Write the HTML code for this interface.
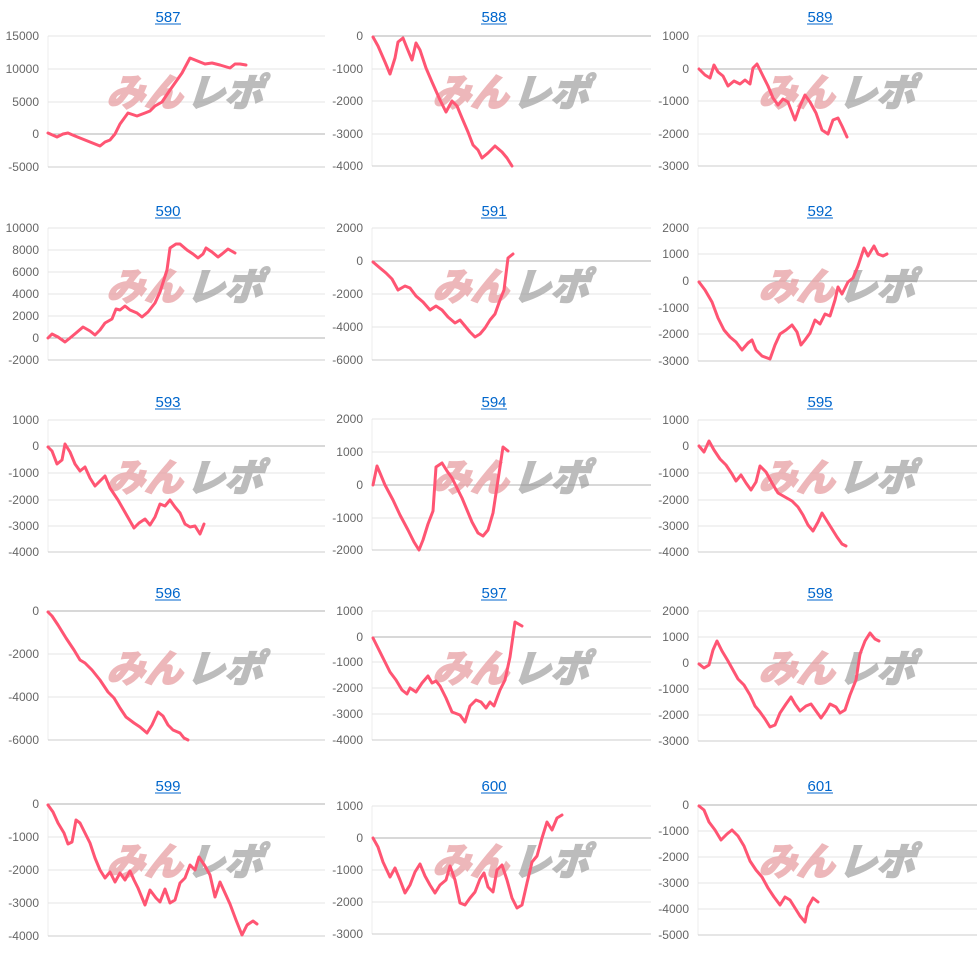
<!DOCTYPE html>
<html><head><meta charset="utf-8"><style>
body{margin:0;background:#fff;width:979px;height:958px;overflow:hidden}
svg{position:absolute;left:0;top:0}
</style></head><body>
<svg id="s" width="979" height="958" xmlns="http://www.w3.org/2000/svg"></svg>
<script>
const C=[
[0,"587",17,[[15000,36],[10000,69],[5000,102],[0,134],[-5000,167]],"48,133 57,137 63,134 68,133 75,136 100,146 105,142 110,140 115,134 120,124 128,113 137,116 145,113 150,111 155,106 162,102 170,90 182,73 190,58 200,62 205,64 212,63 220,65 230,68 235,64 240,64 246,65"],
[1,"588",17,[[0,36],[-1000,69],[-2000,101],[-3000,134],[-4000,166]],"373,37 378,46 385,62 390,74 395,58 398,42 403,38 407,48 412,60 416,43 420,50 426,68 432,82 440,100 446,112 452,101 457,106 462,118 468,132 473,145 478,150 482,158 488,153 495,146 502,152 507,158 512,166"],
[2,"589",17,[[1000,36],[0,69],[-1000,101],[-2000,134],[-3000,166]],"699,69 705,75 710,78 714,65 718,72 723,76 728,86 734,81 740,84 745,80 750,84 753,68 757,64 762,74 768,86 773,98 778,105 783,99 788,102 795,120 800,106 805,95 810,102 816,113 822,130 828,134 833,120 838,118 842,126 847,137"],
[0,"590",211,[[10000,228],[8000,250],[6000,272],[4000,294],[2000,316],[0,338],[-2000,360]],"48,338 52,334 58,337 65,342 70,338 76,333 83,327 90,331 95,335 100,330 105,323 112,319 116,309 120,310 125,306 130,310 137,313 142,317 148,312 155,303 160,292 167,270 170,248 176,244 180,244 187,250 193,254 198,258 203,254 206,248 212,252 218,257 222,254 228,249 235,253"],
[1,"591",211,[[2000,228],[0,261],[-2000,294],[-4000,327],[-6000,360]],"373,262 380,268 386,273 392,279 398,290 405,286 410,288 416,296 423,302 430,310 436,306 442,310 448,317 455,323 460,320 465,326 470,332 475,337 480,334 485,328 490,320 495,314 500,300 504,290 508,258 513,254"],
[2,"592",211,[[2000,228],[1000,254],[0,281],[-1000,308],[-2000,334],[-3000,361]],"699,282 705,290 712,302 718,318 724,330 730,337 736,342 742,350 748,343 752,340 756,350 762,356 770,359 775,345 780,334 786,330 792,325 797,332 801,345 805,340 810,333 815,320 820,324 825,314 830,316 835,300 838,287 842,294 848,282 853,278 858,266 864,248 868,256 874,246 878,254 883,256 887,254"],
[0,"593",402,[[1000,420],[0,446],[-1000,473],[-2000,500],[-3000,526],[-4000,552]],"48,447 52,451 57,464 62,460 65,444 70,452 75,464 80,471 85,467 90,478 95,486 100,481 105,476 110,488 118,500 126,514 134,528 139,523 145,519 150,525 155,517 160,504 165,506 170,500 175,507 180,513 185,524 190,527 195,526 200,534 204,524"],
[1,"594",402,[[2000,419],[1000,452],[0,485],[-1000,518],[-2000,550]],"373,485 377,466 380,473 385,485 393,500 400,515 408,530 414,542 419,550 423,540 428,524 433,511 436,467 442,463 447,471 452,478 457,488 462,498 467,510 472,522 478,533 483,536 488,530 493,513 498,480 503,447 508,451"],
[2,"595",402,[[1000,420],[0,446],[-1000,473],[-2000,500],[-3000,526],[-4000,552]],"699,446 704,452 709,441 714,450 720,459 726,465 732,474 736,481 741,475 746,483 751,490 756,482 760,466 766,472 772,483 778,493 785,497 792,501 798,507 803,515 808,525 813,531 818,522 822,513 827,521 832,529 837,537 842,544 846,546"],
[0,"596",593,[[0,611],[-2000,654],[-4000,697],[-6000,740]],"48,612 52,616 58,625 66,638 74,650 80,660 85,663 92,670 100,680 108,692 114,698 120,708 126,717 134,723 140,727 147,733 152,725 158,712 163,716 168,725 173,730 180,733 184,738 188,740"],
[1,"597",593,[[1000,611],[0,637],[-1000,662],[-2000,688],[-3000,714],[-4000,740]],"373,638 378,648 384,660 390,672 396,680 402,690 407,694 410,688 416,692 422,683 428,676 432,683 436,681 440,686 446,698 452,712 460,715 465,722 470,706 476,700 481,702 486,708 490,702 494,706 500,690 505,680 510,657 515,622 522,626"],
[2,"598",593,[[2000,611],[1000,637],[0,663],[-1000,689],[-2000,715],[-3000,741]],"699,664 704,668 709,665 713,650 717,641 722,651 728,661 733,670 738,679 744,685 750,695 755,706 760,712 765,719 770,727 775,725 780,713 786,704 791,697 795,704 800,711 806,706 811,704 816,711 821,718 826,711 830,704 836,707 840,713 845,710 850,695 856,680 860,654 865,641 870,633 875,639 879,641"],
[0,"599",786,[[0,804],[-1000,837],[-2000,870],[-3000,903],[-4000,936]],"48,805 53,812 58,823 64,833 68,844 72,842 76,820 80,823 85,833 90,843 95,858 100,870 105,878 110,872 115,882 120,873 125,880 130,871 134,880 138,888 145,905 150,890 156,898 160,902 165,889 170,903 175,900 180,883 185,878 190,865 195,870 199,857 205,866 210,875 215,897 220,882 225,893 230,904 236,920 242,935 247,925 253,921 257,924"],
[1,"600",786,[[1000,806],[0,838],[-1000,870],[-2000,902],[-3000,934]],"373,838 378,847 383,862 390,877 395,868 400,880 405,893 410,885 415,872 420,864 425,876 430,885 435,893 440,885 446,880 450,866 455,880 460,903 465,905 470,898 475,892 480,879 484,873 488,887 493,892 497,870 502,865 507,880 512,898 517,908 522,905 527,883 532,862 537,856 542,838 547,822 552,830 557,818 562,815"],
[2,"601",786,[[0,805],[-1000,831],[-2000,857],[-3000,883],[-4000,909],[-5000,935]],"699,806 704,810 709,822 715,830 721,840 727,834 732,830 738,836 744,846 750,861 756,870 762,877 768,888 774,897 780,905 785,897 790,900 795,908 800,916 805,922 808,907 813,898 818,902"]
];
const CX=[0,326,652],PL=[48,372,698];
let h='';
for(const [c,t,ty,g,pts] of C){
 const x0=CX[c],pl=PL[c],pr=x0+325;
 const tx=x0+168;
 h+=`<text x="${tx}" y="${ty+5}" font-family="Liberation Sans,sans-serif" font-size="15" fill="#0066cc" text-anchor="middle">${t}</text><line x1="${tx-13}" x2="${tx+13}" y1="${ty+7}" y2="${ty+7}" stroke="#0066cc" stroke-width="1"/>`;
 const top=g[0][1],bot=g[g.length-1][1];
 h+=`<line x1="${pl}" x2="${pl}" y1="${top}" y2="${bot}" stroke="#eee"/>`;
 for(const [v,y] of g){
  h+=`<line x1="${pl}" x2="${pr}" y1="${y}" y2="${y}" stroke="${v===0?'#b0b0b0':(y===bot?'#ccc':'#e4e4e4')}" stroke-width="1"/>`;
  h+=`<text x="${pl-9}" y="${y+4}" font-family="Liberation Sans,sans-serif" font-size="12" fill="#666" text-anchor="end">${v}</text>`;
 }
 const wx=x0+100,wy=ty+89;
 h+=`<g transform="translate(${wx},${wy}) skewX(-18)" font-family="Noto Sans CJK JP,sans-serif" font-weight="900" font-size="38"><text x="6" y="0" fill="#e8a0a4" opacity="0.75" stroke="#e8a0a4" stroke-width="1.5">みん</text><text x="86" y="0" fill="#999" opacity="0.65" stroke="#999" stroke-width="1.5">レポ</text></g>`;
 h+=`<polyline points="${pts}" fill="none" stroke="#ff5573" stroke-width="3" stroke-linejoin="round" stroke-linecap="round"/>`;
}
document.getElementById('s').innerHTML=h;
</script>
</body></html>
